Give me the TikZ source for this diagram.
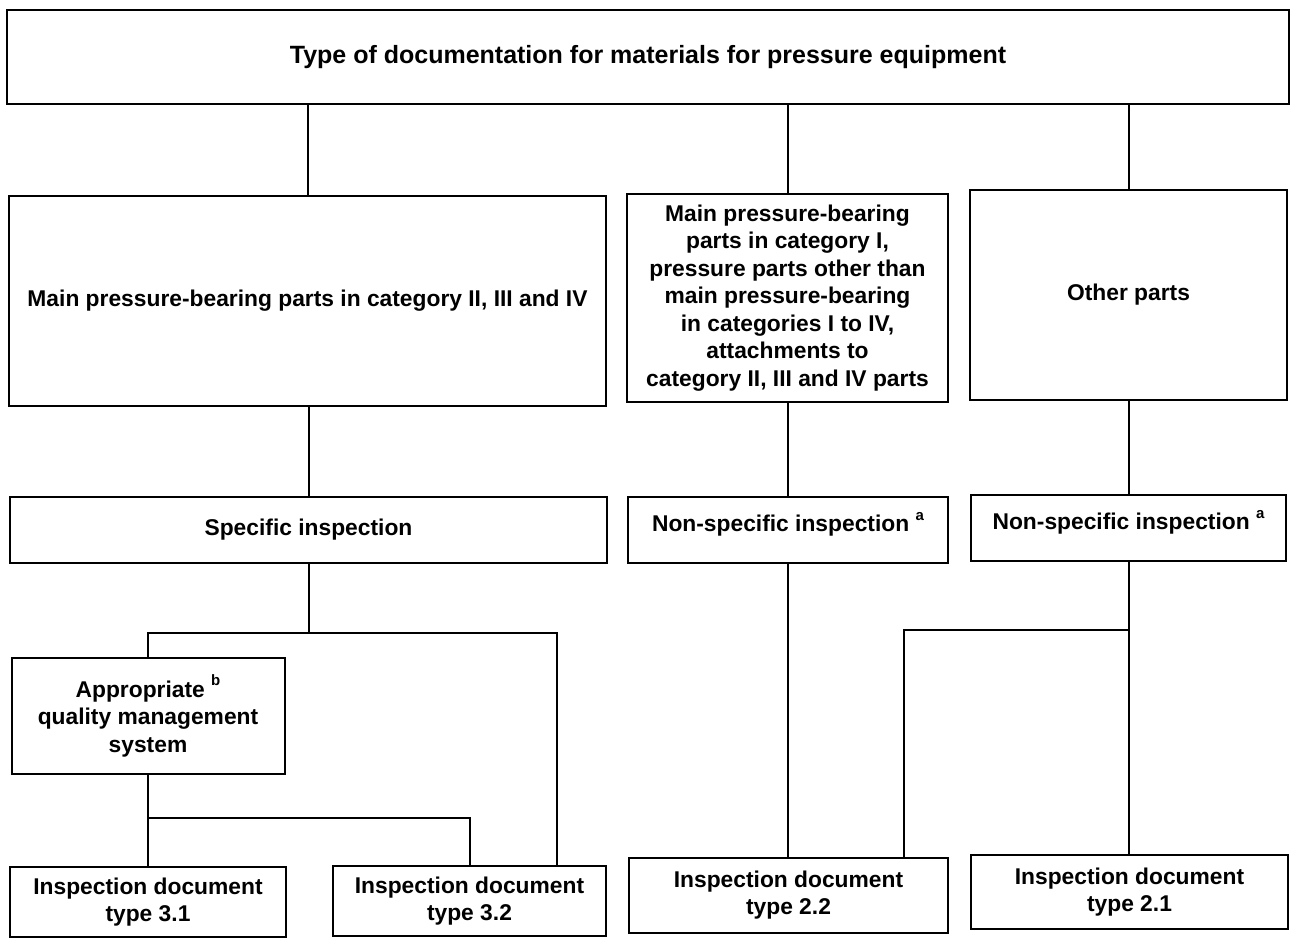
\documentclass[tikz,border=0pt]{standalone}
\usepackage{fontspec}
\setmainfont{Liberation Sans}
\begin{document}
\begin{tikzpicture}[x=1pt,y=-1pt,
  box/.style={draw, line width=2pt, rectangle, inner sep=0pt, align=center,
    font=\bfseries\fontsize{22.8}{27.5}\selectfont},
  conn/.style={line width=2pt}]
\useasboundingbox (0,0) rectangle (1294,938);
\newcommand{\supmark}[1]{\raisebox{0.5em}{\fontsize{15}{15}\selectfont #1}}
\node[box, minimum width=1282pt, minimum height=94pt, font=\bfseries\fontsize{25}{30}\selectfont] (top) at (648,57) {Type of documentation for materials for pressure equipment};
\node[box, minimum width=597pt, minimum height=210pt] (A) at (307.5,301) {Main pressure-bearing parts in category II, III and IV};
\node[box, minimum width=321pt, minimum height=208pt] (B) at (787.5,298) {Main pressure-bearing\\parts in category I,\\pressure parts other than\\main pressure-bearing\\in categories I to IV,\\attachments to\\category II, III and IV parts};
\node[box, minimum width=317pt, minimum height=210pt] (C) at (1128.5,295) {Other parts};
\node[box, minimum width=597pt, minimum height=66pt] (S) at (308.5,530) {Specific inspection};
\node[box, minimum width=320pt, minimum height=66pt] (N1) at (788,530) {\raisebox{16pt}{Non-specific inspection \supmark{a}}};
\node[box, minimum width=315pt, minimum height=66pt] (N2) at (1128.5,528) {\raisebox{16pt}{Non-specific inspection \supmark{a}}};
\node[box, minimum width=273pt, minimum height=116pt] (Q) at (148,716) {Appropriate \supmark{b}\\quality management\\system};
\node[box, minimum width=276pt, minimum height=70pt] (D31) at (148,902) {Inspection document\\type 3.1};
\node[box, minimum width=273pt, minimum height=70pt] (D32) at (469.5,901) {Inspection document\\type 3.2};
\node[box, minimum width=319pt, minimum height=75pt] (D22) at (788.5,895) {Inspection document\\type 2.2};
\node[box, minimum width=317pt, minimum height=74pt] (D21) at (1129.5,892) {Inspection document\\type 2.1};
\coordinate (b1) at (557,633);
\coordinate (b2) at (470,818);
\coordinate (b3) at (904,630);
\draw[conn] (A.north) -- (A.north |- top.south);
\draw[conn] (B.north) -- (B.north |- top.south);
\draw[conn] (C.north) -- (C.north |- top.south);
\draw[conn] (S.north) -- (S.north |- A.south);
\draw[conn] (N1.north) -- (N1.north |- B.south);
\draw[conn] (N2.north) -- (N2.north |- C.south);
\draw[conn] (S.south) -- (S.south |- b1);
\draw[conn] (Q.north) |- (b1) -- (b1 |- D32.north);
\draw[conn] (Q.south) -- (D31.north);
\draw[conn] (Q.south |- b2) -- (b2) -- (b2 |- D32.north);
\draw[conn] (N1.south) -- (N1.south |- D22.north);
\draw[conn] (N2.south) -- (N2.south |- D21.north);
\draw[conn] (N2.south |- b3) -- (b3) -- (b3 |- D22.north);
\end{tikzpicture}
\end{document}
